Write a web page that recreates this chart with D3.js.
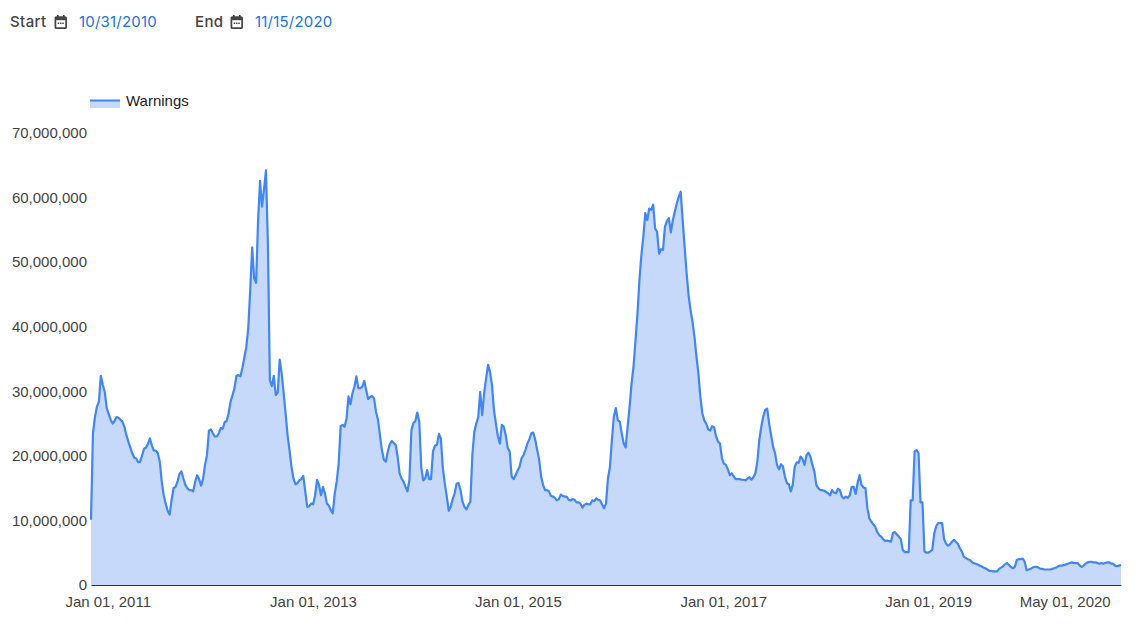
<!DOCTYPE html>
<html>
<head>
    <meta charset="utf-8">
    <title>Warnings</title>
    <script src="https://d3js.org/d3.v7.min.js"></script>
    <style>
        html, body { margin: 0; padding: 0; background: #fff; }
        svg { display: block; }
        .axis text { font-family: "Liberation Sans", Arial, sans-serif; font-size: 15px; fill: #444; }
        .range-label { font-family: Inter, Roboto, sans-serif; font-size: 15px; font-weight: 500; letter-spacing: 0.4px; fill: #444; }
        .range-date { font-family: Inter, Roboto, sans-serif; font-size: 15px; letter-spacing: 0.2px; fill: #1a73e8; }
    </style>
</head>
<body>
    <div id="chart"></div>

    <script>
        // weekly values, in millions
        const startDate = new Date(Date.UTC(2010, 9, 31));
        const warnings = [
            10.1, 23.5, 26, 27.6, 28.4, 32.4, 31, 29.9, 27.4, 26.5,
            25.6, 25, 25.4, 26, 25.9, 25.6, 25.3, 24.5, 23.2, 22.2,
            21.3, 20.4, 19.7, 19.6, 19, 19.1, 20.1, 21.1, 21.3, 21.9,
            22.7, 21.6, 20.8, 20.8, 20.4, 19.1, 16, 13.9, 12.6, 11.5,
            10.9, 13.2, 15, 15.2, 16, 17.2, 17.6, 16.5, 15.5, 15,
            14.7, 14.7, 14.5, 16, 17, 16.4, 15.4, 16.4, 18.6, 20.1,
            23.9, 24.1, 23.5, 23, 23, 23.5, 24.3, 24.2, 25.2, 25.4,
            26.6, 28.4, 29.4, 30.5, 32.4, 32.5, 32.3, 33.6, 35.2, 36.8,
            39.8, 45.7, 52.3, 47.5, 46.8, 56.5, 62.6, 58.6, 61.2, 64.2,
            52.9, 31.7, 30.8, 32.4, 29.4, 29.8, 34.9, 32.8, 29.7, 26.6,
            23.2, 20.9, 18.3, 16.5, 15.6, 15.8, 16.2, 16.4, 16.9, 14.5,
            12.1, 12.2, 12.6, 12.5, 13.9, 16.3, 15.5, 13.9, 15.2, 14.2,
            12.6, 12.3, 11.6, 11.1, 14.2, 16, 18.8, 24.6, 24.8, 24.5,
            25.8, 29.2, 28, 29.7, 30.7, 32.3, 30.5, 30.5, 30.7, 31.6,
            30.2, 28.8, 29.1, 29.3, 28.9, 26.8, 25.6, 23.2, 20.9, 19.4,
            19.1, 20.7, 21.8, 22.3, 22, 21.7, 19.9, 17.3, 16.5, 16,
            15.2, 14.5, 16.3, 24, 25.1, 25.4, 26.7, 25.3, 18.3, 16.2,
            16.5, 17.8, 16.4, 16.4, 20.7, 21.6, 21.7, 23.4, 22.7, 18.1,
            15.7, 13.7, 11.5, 12.1, 13.3, 14.2, 15.7, 15.8, 14.7, 12.9,
            12.1, 11.7, 12.4, 12.9, 20.1, 23.7, 25, 26, 29.9, 26.3,
            29.7, 32, 34.1, 33, 31, 27.1, 25, 23, 21.9, 24.8,
            24.5, 23.2, 21.2, 20.7, 16.8, 16.4, 17, 17.7, 18.3, 19.6,
            20.1, 20.9, 21.9, 22.6, 23.5, 23.6, 22.5, 20.9, 19.4, 16.8,
            15.5, 14.7, 14.7, 14.5, 13.8, 13.7, 13.5, 13.1, 13.3, 14,
            13.8, 13.7, 13.7, 13.2, 13.1, 13.3, 13.2, 12.8, 12.8, 12.6,
            12, 12.4, 12.6, 12.5, 12.5, 13.1, 13, 13.4, 13.2, 13.1,
            12.5, 11.9, 12.6, 16.5, 18.3, 22.5, 26.1, 27.4, 25.5, 25.3,
            23.5, 21.9, 21.3, 24.5, 27.6, 31.2, 33.8, 37.9, 42, 47.2,
            51.1, 54, 57.6, 56.5, 58.3, 58.1, 58.9, 55.2, 54.7, 51.3,
            52, 51.9, 55.5, 56.4, 56.8, 54.6, 56.5, 57.8, 59.1, 60.1,
            60.9, 56.5, 52.4, 48.3, 44.9, 42.6, 40.8, 38.5, 35.4, 32.8,
            29.2, 26.6, 25.5, 25, 24.1, 23.9, 24.6, 24.4, 23, 22.2,
            21.9, 19.6, 18.8, 18.6, 17.9, 17, 17.3, 16.8, 16.4, 16.4,
            16.4, 16.3, 16.3, 16.2, 16.5, 16.7, 16.3, 16.7, 17.3, 19.1,
            22.5, 24.5, 26.1, 27.1, 27.3, 25, 23.2, 21.4, 20.4, 18.6,
            17.9, 18.7, 18.4, 16.8, 15.8, 15.6, 14.5, 15.5, 18.3, 19,
            18.9, 19.9, 19.5, 18.6, 20.1, 20.5, 19.9, 18.6, 17.6, 15.5,
            15, 14.7, 14.7, 14.6, 14.4, 14.2, 13.9, 14.7, 14.3, 14.2,
            14.9, 14.7, 13.7, 13.4, 13.7, 13.5, 13.9, 15.2, 15.2, 14.1,
            15.8, 17, 15.5, 15.1, 15, 11.9, 10.3, 9.8, 9.4, 9,
            8.2, 7.7, 7.5, 7.1, 6.8, 6.9, 6.8, 6.7, 8.1, 8.2,
            7.8, 7.5, 7.1, 5.4, 5.1, 5.1, 5.1, 13.1, 13.1, 20.7,
            20.9, 20.4, 12.8, 12.8, 5.2, 5, 5, 5.2, 5.5, 8,
            9.1, 9.6, 9.6, 9.6, 7.1, 6.4, 6.1, 6.3, 6.7, 7,
            6.7, 6.4, 5.7, 5.2, 4.4, 4.2, 4, 3.9, 3.6, 3.4,
            3.3, 3.2, 3, 2.9, 2.7, 2.6, 2.4, 2.2, 2.2, 2.1,
            2.1, 2.1, 2.5, 2.7, 2.9, 3.2, 3.4, 3.1, 2.8, 2.6,
            2.8, 3.9, 4, 4, 4.1, 3.6, 2.3, 2.4, 2.5, 2.7,
            2.8, 2.8, 2.7, 2.5, 2.5, 2.4, 2.4, 2.4, 2.4, 2.5,
            2.6, 2.7, 2.9, 3, 3, 3.1, 3.2, 3.3, 3.4, 3.5,
            3.4, 3.4, 3.4, 3, 2.8, 3, 3.3, 3.5, 3.6, 3.6,
            3.5, 3.5, 3.4, 3.3, 3.4, 3.3, 3.4, 3.5, 3.5, 3.3,
            3.3, 3, 2.9, 3, 3.1
        ];
        const xTickDates = ["2011-01-01", "2013-01-01", "2015-01-01", "2017-01-01", "2019-01-01", "2020-05-01"];
        const yTicks = [0, 10, 20, 30, 40, 50, 60, 70];

        const width = 1148, height = 627;
        const margin = {top: 133, right: 27, bottom: 42, left: 91};

        const data = warnings.map((v, i) => ({
            date: d3.utcDay.offset(startDate, i * 7),
            value: v * 1e6
        }));

        const svg = d3.select("#chart")
            .append("svg")
            .attr("width", width)
            .attr("height", height);

        const x = d3.scaleUtc()
            .domain(d3.extent(data, d => d.date))
            .range([margin.left, width - margin.right]);
        const y = d3.scaleLinear()
            .domain([0, 70e6])
            .range([height - margin.bottom, margin.top]);

        // date range header
        function calendar(px) {
            const g = svg.append("g").attr("transform", `translate(${px},15)`);
            g.append("rect").attr("x", 0.9).attr("y", 2).attr("width", 10.7).attr("height", 11.2)
                .attr("rx", 1).attr("fill", "none").attr("stroke", "#444").attr("stroke-width", 1.7);
            g.append("rect").attr("x", 0.9).attr("y", 2).attr("width", 10.7).attr("height", 3.2).attr("fill", "#444");
            g.selectAll("rect.stem").data([2.5, 8.5]).enter().append("rect").attr("class", "stem")
                .attr("x", d => d).attr("y", 0).attr("width", 1.6).attr("height", 2.5).attr("fill", "#444");
            g.selectAll("rect.dot").data([3.2, 5.5, 7.8]).enter().append("rect").attr("class", "dot")
                .attr("x", d => d).attr("y", 7.5).attr("width", 1.5).attr("height", 1.5).attr("fill", "#444");
        }
        svg.append("text").attr("class", "range-label").attr("x", 10).attr("y", 27).text("Start");
        calendar(54.5);
        svg.append("text").attr("class", "range-date").attr("x", 79).attr("y", 27).text("10/31/2010");
        svg.append("text").attr("class", "range-label").attr("x", 195).attr("y", 27).text("End");
        calendar(230.5);
        svg.append("text").attr("class", "range-date").attr("x", 255).attr("y", 27).text("11/15/2020");

        // legend
        svg.append("rect").attr("x", 90).attr("y", 100).attr("width", 30).attr("height", 8).attr("fill", "#c6d9fb");
        svg.append("line").attr("x1", 90).attr("x2", 120).attr("y1", 100.5).attr("y2", 100.5)
            .attr("stroke", "#4285f4").attr("stroke-width", 2);
        svg.append("text").attr("x", 126).attr("y", 106)
            .style("font-family", '"Liberation Sans", Arial, sans-serif')
            .style("font-size", "15px").style("fill", "#222").text("Warnings");

        // area and line
        svg.append("path").datum(data)
            .attr("fill", "#c6d9fb")
            .attr("d", d3.area().x(d => x(d.date)).y0(y(0)).y1(d => y(d.value)));
        svg.append("path").datum(data)
            .attr("fill", "none")
            .attr("stroke", "#4285f4")
            .attr("stroke-width", 2.2)
            .attr("stroke-linejoin", "round")
            .attr("d", d3.line().x(d => x(d.date)).y(d => y(d.value)));

        // axes
        const xAxis = d3.axisBottom(x)
            .tickValues(xTickDates.map(d => new Date(d + "T00:00:00Z")))
            .tickFormat(d3.utcFormat("%b %d, %Y"))
            .tickSize(0)
            .tickPadding(11);
        const gx = svg.append("g").attr("class", "axis")
            .attr("transform", `translate(0,${y(0)})`)
            .call(xAxis);
        gx.select(".domain").attr("stroke", "#333").attr("stroke-width", 1);
        gx.selectAll("text").attr("dx", -0.7);

        const yAxis = d3.axisLeft(y)
            .tickValues(yTicks.map(d => d * 1e6))
            .tickFormat(d3.format(","))
            .tickSize(0)
            .tickPadding(4);
        const gy = svg.append("g").attr("class", "axis")
            .attr("transform", `translate(${margin.left},0)`)
            .call(yAxis);
        gy.select(".domain").remove();
    </script>
</body>
</html>
